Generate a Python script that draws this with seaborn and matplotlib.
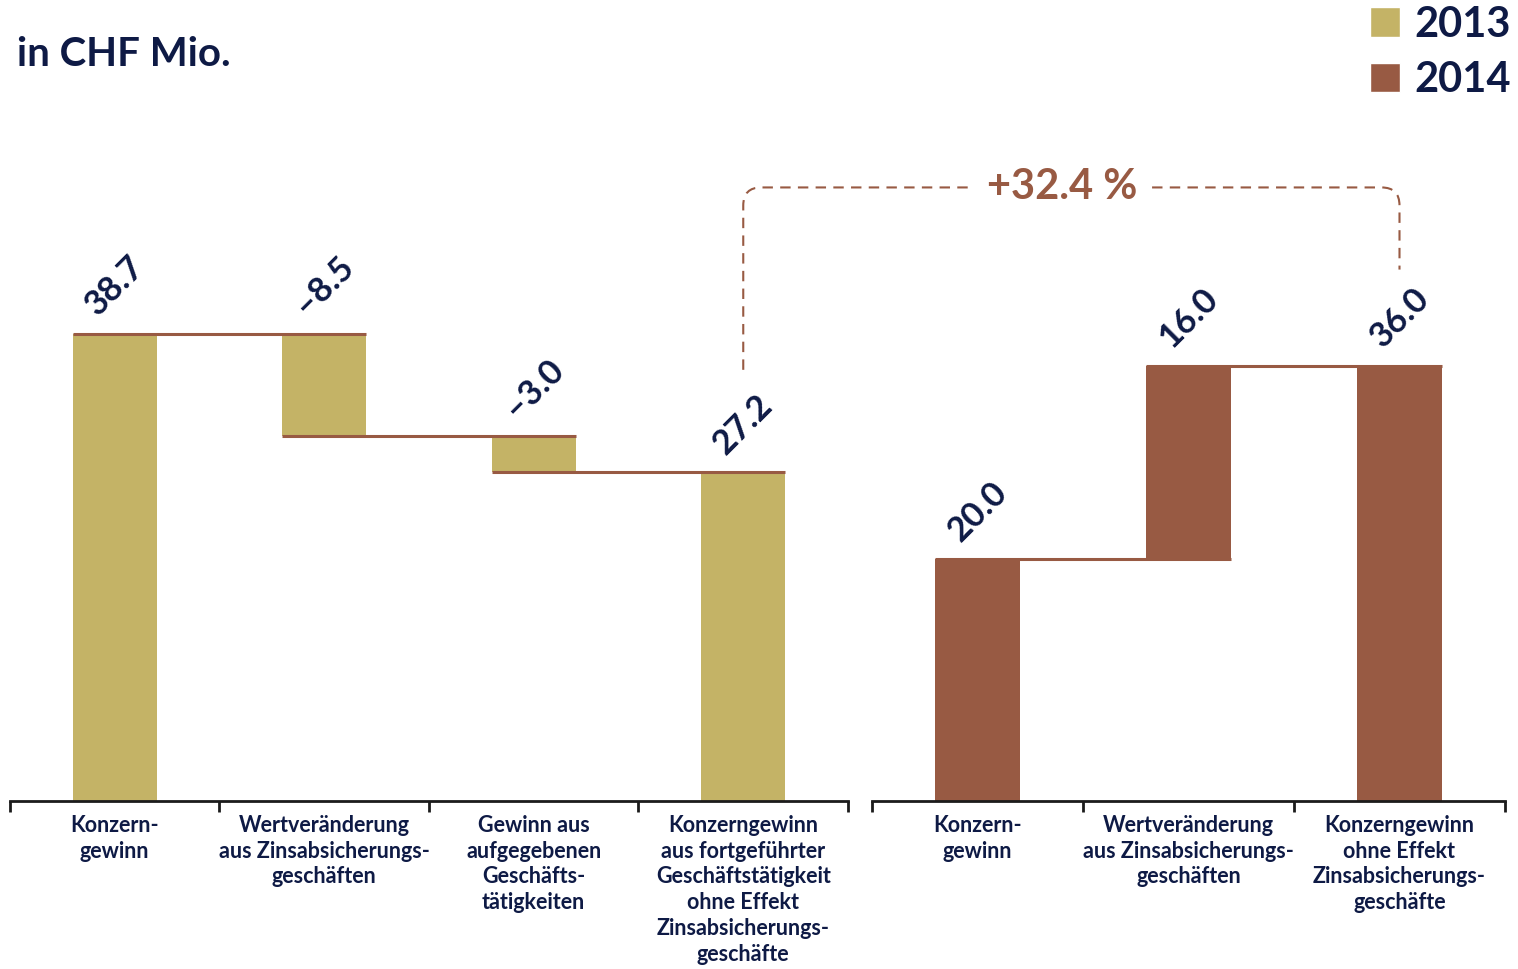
import numpy as np
import pandas as pd
import seaborn as sns
import matplotlib.pyplot as plt
from matplotlib.patches import Patch, PathPatch
from matplotlib.path import Path

# data
labels_2013 = ["Konzern-\ngewinn",
               "Wertveränderung\naus Zinsabsicherungs-\ngeschäften",
               "Gewinn aus\naufgegebenen\nGeschäfts-\ntätigkeiten",
               "Konzerngewinn\naus fortgeführter\nGeschäftstätigkeit\nohne Effekt\nZinsabsicherungs-\ngeschäfte"]
values_2013 = [38.7, -8.5, -3.0, 27.2]
totals_2013 = [True, False, False, True]

labels_2014 = ["Konzern-\ngewinn",
               "Wertveränderung\naus Zinsabsicherungs-\ngeschäften",
               "Konzerngewinn\nohne Effekt\nZinsabsicherungs-\ngeschäfte"]
values_2014 = [20.0, 16.0, 36.0]
totals_2014 = [True, False, True]

years = ["2013", "2014"]
change_label = "+32.4 %"

GOLD = "#C4B366"
BROWN = "#985A43"
NAVY = "#0E1A45"
AXIS = "#1b1b1b"
BAR_W = 0.4
YMAX = 53.9

sns.set_theme(style="white")
plt.rcParams['font.family'] = ['Lato', 'DejaVu Sans']


def waterfall_frame(labels, values, totals):
	run = 0.0
	rows = []
	for lab, v, tot in zip(labels, values, totals):
		if tot:
			lo, hi = 0.0, v
			run = v
		else:
			lo, hi = sorted((run, run + v))
			run += v
		rows.append((lab, v, lo, hi - lo, hi, run))
	return pd.DataFrame(rows, columns=["label", "value", "bottom", "height", "top", "level"])


def draw_panel(ax, df, color):
	n = len(df)
	sns.barplot(data=df, x="label", y="height", bottom=df["bottom"].to_numpy(),
		color=color, saturation=1, width=BAR_W, ax=ax, linewidth=0, edgecolor="none")
	# connector lines between bars
	for i in range(n - 1):
		ax.hlines(df["level"][i], i - BAR_W / 2, i + 1 + BAR_W / 2, color=BROWN, lw=2.2, zorder=3)
	for i, row in df.iterrows():
		txt = f"{row['value']:.1f}".replace("-", "\u2013")
		ax.annotate(txt, (i, row["top"]), xytext=(0, 9), textcoords="offset points",
			ha="center", va="bottom", rotation=45, fontsize=25, fontweight="bold", color=NAVY)
	ax.set_xlim(-0.5, n - 0.5)
	ax.set_ylim(0, YMAX)
	ax.set_xlabel("")
	ax.set_ylabel("")
	ax.set_yticks([])
	sns.despine(ax=ax, left=True)
	ax.spines["bottom"].set_linewidth(2)
	ax.spines["bottom"].set_color(AXIS)
	ax.set_xticks(np.arange(-0.5, n), minor=True)
	ax.tick_params(axis="x", which="major", length=0, pad=10, labelsize=15.5, labelcolor=NAVY)
	ax.tick_params(axis="x", which="minor", length=8, width=2, color=AXIS, direction="out", bottom=True)
	for t in ax.get_xticklabels():
		t.set_fontweight("bold")
		t.set_linespacing(1.28)


fig = plt.figure(figsize=(15.18, 9.69), dpi=100)
axL = fig.add_axes([10 / 1518, 168 / 969, 838 / 1518, 651 / 969])
axR = fig.add_axes([872 / 1518, 168 / 969, 633 / 1518, 651 / 969])

df13 = waterfall_frame(labels_2013, values_2013, totals_2013)
df14 = waterfall_frame(labels_2014, values_2014, totals_2014)
draw_panel(axL, df13, GOLD)
draw_panel(axR, df14, BROWN)

fig.text(17 / 1518, 1 - 66 / 969, "in CHF Mio.", va="baseline", fontsize=29,
	fontweight="bold", color=NAVY)

fig.legend(handles=[Patch(facecolor=GOLD, label=years[0]), Patch(facecolor=BROWN, label=years[1])],
	loc="upper right", bbox_to_anchor=(1.02, 1.033), frameon=False,
	prop=dict(size=30, weight="bold"), labelcolor=NAVY,
	handlelength=0.72, handleheight=0.72, handletextpad=0.35, labelspacing=0.42)

# dashed bracket showing the change between the two totals
left_low, bracket_top, right_low = 35.7, 50.8, 44.0
lx, ly = axL.transData.transform((len(df13) - 1, left_low))
_, ty = axL.transData.transform((len(df13) - 1, bracket_top))
rx, ry = axR.transData.transform((len(df14) - 1, right_low))
r = 18
verts = [(lx, ly), (lx, ty - r), (lx, ty), (lx + r, ty), (rx - r, ty), (rx, ty), (rx, ty - r), (rx, ry)]
codes = [Path.MOVETO, Path.LINETO, Path.CURVE3, Path.CURVE3, Path.LINETO, Path.CURVE3, Path.CURVE3, Path.LINETO]
verts = fig.transFigure.inverted().transform(verts)
fig.add_artist(PathPatch(Path(verts, codes), transform=fig.transFigure, fill=False,
	edgecolor=BROWN, lw=1.5, linestyle=(0, (5, 3.5))))
mx = (verts[0][0] + verts[-1][0]) / 2 - 0.006
fig.text(mx, verts[2][1], change_label, ha="center", va="center", fontsize=30, fontweight="bold",
	color=BROWN, bbox=dict(boxstyle="square,pad=0.35", facecolor="white", edgecolor="none"))

fig.savefig("out.png", dpi=100, facecolor="white")
